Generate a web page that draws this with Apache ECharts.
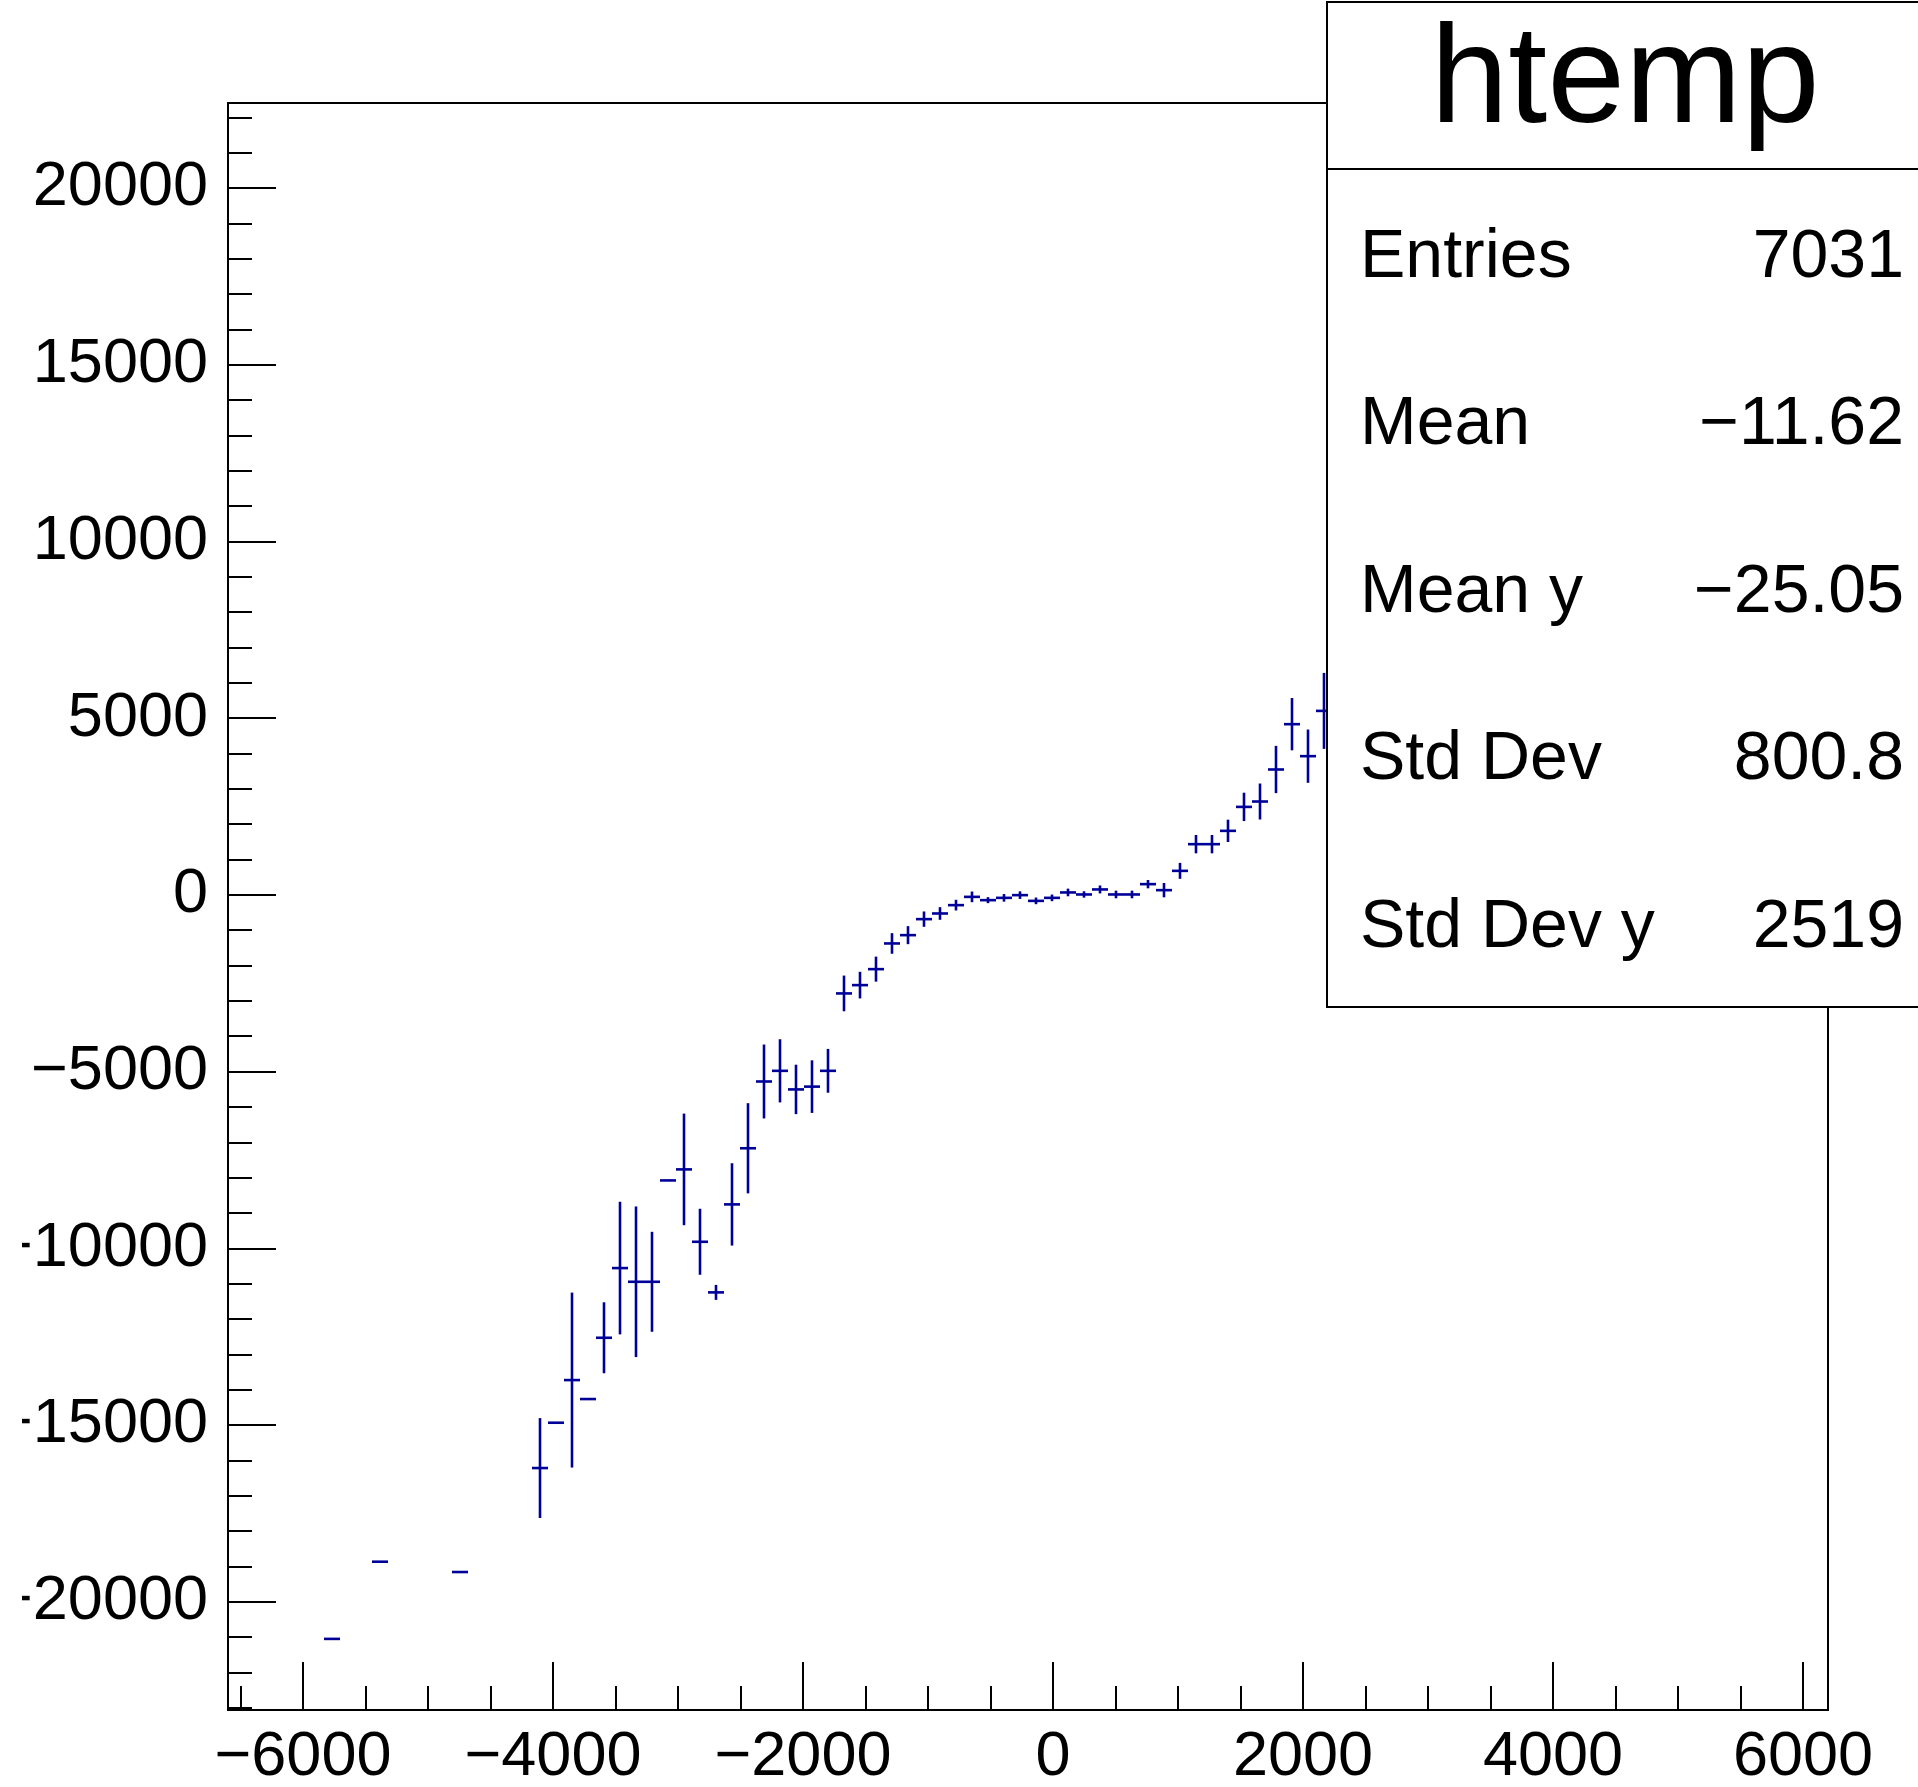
<!DOCTYPE html>
<html>
<head>
<meta charset="utf-8">
<script src="https://cdn.jsdelivr.net/npm/echarts@6/dist/echarts.min.js"></script>
<style>
html,body{margin:0;padding:0;background:#fff;}
#chart{width:1918px;height:1787px;}
</style>
</head>
<body>
<div id="chart"></div>
<script>
// ---- data (profile histogram "htemp") ----
const binHalfWidth = 64;
const xCenters = [-5768, -5384, -4744, -4104, -3976, -3848, -3720, -3592, -3464, -3336, -3208, -3080, -2952, -2824, -2696, -2568, -2440, -2312, -2184, -2056, -1928, -1800, -1672, -1544, -1416, -1288, -1160, -1032, -904, -776, -648, -520, -392, -264, -136, -8, 120, 248, 376, 504, 632, 760, 888, 1016, 1144, 1272, 1400, 1528, 1656, 1784, 1912, 2040, 2168];
const yMeans = [-21052, -18868, -19160, -16218, -14936, -13729, -14266, -12532, -10560, -10948, -10948, -8080, -7768, -9816, -11248, -8758, -7170, -5281, -4979, -5505, -5426, -4979, -2789, -2554, -2102, -1375, -1140, -687, -527, -291, -57, -150, -85, -8, -170, -85, 68, 11, 153, 11, 11, 303, 133, 679, 1434, 1434, 1811, 2489, 2641, 3547, 4829, 3924, 5205];
const yErrors = [0, 0, 0, 1414, 0, 2475, 0, 1004, 1876, 2131, 1414, 0, 1579, 934, 212, 1165, 1276, 1046, 894, 699, 744, 620, 505, 377, 354, 292, 255, 217, 179, 151, 151, 85, 108, 108, 94, 94, 108, 90, 113, 108, 108, 118, 203, 226, 259, 259, 316, 401, 509, 669, 740, 754, 1075];

const xMin = -6600, xMax = 6200;
const yMin = -23064, yMax = 22405;
const xMajorTicks = [-6000, -4000, -2000, 0, 2000, 4000, 6000];
const yMajorTicks = [-20000, -15000, -10000, -5000, 0, 5000, 10000, 15000, 20000];
const xMinorStep = 500, yMinorStep = 1000;

const statsTitle = 'htemp';
const statsLabels = ['Entries', 'Mean', 'Mean y', 'Std Dev', 'Std Dev y'];
const statsValues = ['7031', '\u221211.62', '\u221225.05', '800.8', '2519'];

// minor tick positions (axis decoration)
const xMinorTicks = [];
for (let v = Math.ceil(xMin / xMinorStep) * xMinorStep; v <= xMax; v += xMinorStep) if (xMajorTicks.indexOf(v) < 0) xMinorTicks.push(v);
const yMinorTicks = [];
for (let v = Math.ceil(yMin / yMinorStep) * yMinorStep; v <= yMax; v += yMinorStep) if (yMajorTicks.indexOf(v) < 0) yMinorTicks.push(v);

const points = xCenters.map((x, i) => [x, yMeans[i], yErrors[i]]);

const FONT = '"Liberation Sans", Arial, Helvetica, sans-serif';
const fmt = v => String(v).replace('-', '\u2212');
const DATA_COLOR = '#000099';

const chart = echarts.init(document.getElementById('chart'), null, {renderer: 'canvas'});

const grid = {left: 228, top: 103, right: 90, bottom: 77, containLabel: false, outerBoundsMode: 'none', show: true, borderColor: '#000', borderWidth: 2, backgroundColor: 'transparent'};

const statsGraphics = [];
const boxLeft = 1327;
statsGraphics.push({type: 'rect', z: 100, shape: {x: boxLeft, y: 2, width: 700, height: 1005}, style: {fill: '#fff', stroke: '#000', lineWidth: 2}});
statsGraphics.push({type: 'line', z: 101, shape: {x1: boxLeft, y1: 169, x2: 1918, y2: 169}, style: {stroke: '#000', lineWidth: 2}});
statsGraphics.push({type: 'text', z: 101, x: 1625, y: 83, style: {text: statsTitle, font: '140px ' + FONT, fill: '#000', align: 'center', verticalAlign: 'middle'}});
statsLabels.forEach((lab, i) => {
  const y = 258 + i * 167.5;
  statsGraphics.push({type: 'text', z: 101, x: 1360, y: y, style: {text: lab, font: '68px ' + FONT, fill: '#000', align: 'left', verticalAlign: 'middle'}});
  statsGraphics.push({type: 'text', z: 101, x: 1904, y: y, style: {text: statsValues[i], font: '68px ' + FONT, fill: '#000', align: 'right', verticalAlign: 'middle'}});
});
// left edge of the picture is clipped in the reference
statsGraphics.push({type: 'rect', z: 100, shape: {x: 0, y: 0, width: 22, height: 1787}, style: {fill: '#fff'}});

const option = {
  animation: false,
  backgroundColor: '#fff',
  grid: grid,
  xAxis: [
    {
      type: 'value', min: xMin, max: xMax, position: 'bottom',
      axisLine: {show: true, onZero: false, lineStyle: {color: '#000', width: 2}},
      axisTick: {show: true, inside: true, length: 48, customValues: xMajorTicks, lineStyle: {color: '#000', width: 2}},
      axisLabel: {show: true, customValues: xMajorTicks, formatter: fmt, fontSize: 63, fontFamily: FONT, color: '#000', margin: 16},
      splitLine: {show: false}
    },
    {
      type: 'value', min: xMin, max: xMax, position: 'bottom', offset: 0,
      axisLine: {show: false, onZero: false},
      axisTick: {show: true, inside: true, length: 24, customValues: xMinorTicks, lineStyle: {color: '#000', width: 2}},
      axisLabel: {show: false},
      splitLine: {show: false}
    }
  ],
  yAxis: [
    {
      type: 'value', min: yMin, max: yMax, position: 'left',
      axisLine: {show: true, onZero: false, lineStyle: {color: '#000', width: 2}},
      axisTick: {show: true, inside: true, length: 48, customValues: yMajorTicks, lineStyle: {color: '#000', width: 2}},
      axisLabel: {show: true, customValues: yMajorTicks, formatter: fmt, fontSize: 63, fontFamily: FONT, color: '#000', margin: 20},
      splitLine: {show: false}
    },
    {
      type: 'value', min: yMin, max: yMax, position: 'left', offset: 0,
      axisLine: {show: false, onZero: false},
      axisTick: {show: true, inside: true, length: 24, customValues: yMinorTicks, lineStyle: {color: '#000', width: 2}},
      axisLabel: {show: false},
      splitLine: {show: false}
    }
  ],
  series: [{
    type: 'custom',
    xAxisIndex: 0, yAxisIndex: 0,
    data: points,
    clip: true,
    renderItem: function (params, api) {
      const x = api.value(0), y = api.value(1), e = api.value(2);
      const l = api.coord([x - binHalfWidth, y]);
      const r = api.coord([x + binHalfWidth, y]);
      const children = [{type: 'line', shape: {x1: l[0], y1: l[1], x2: r[0], y2: r[1]}, style: {stroke: DATA_COLOR, lineWidth: 2.6}}];
      if (e > 0) {
        const t = api.coord([x, y + e]);
        const b = api.coord([x, y - e]);
        children.push({type: 'line', shape: {x1: t[0], y1: t[1], x2: b[0], y2: b[1]}, style: {stroke: DATA_COLOR, lineWidth: 2.6}});
      }
      return {type: 'group', children: children};
    }
  }],
  graphic: statsGraphics
};
chart.setOption(option);
</script>
</body>
</html>
